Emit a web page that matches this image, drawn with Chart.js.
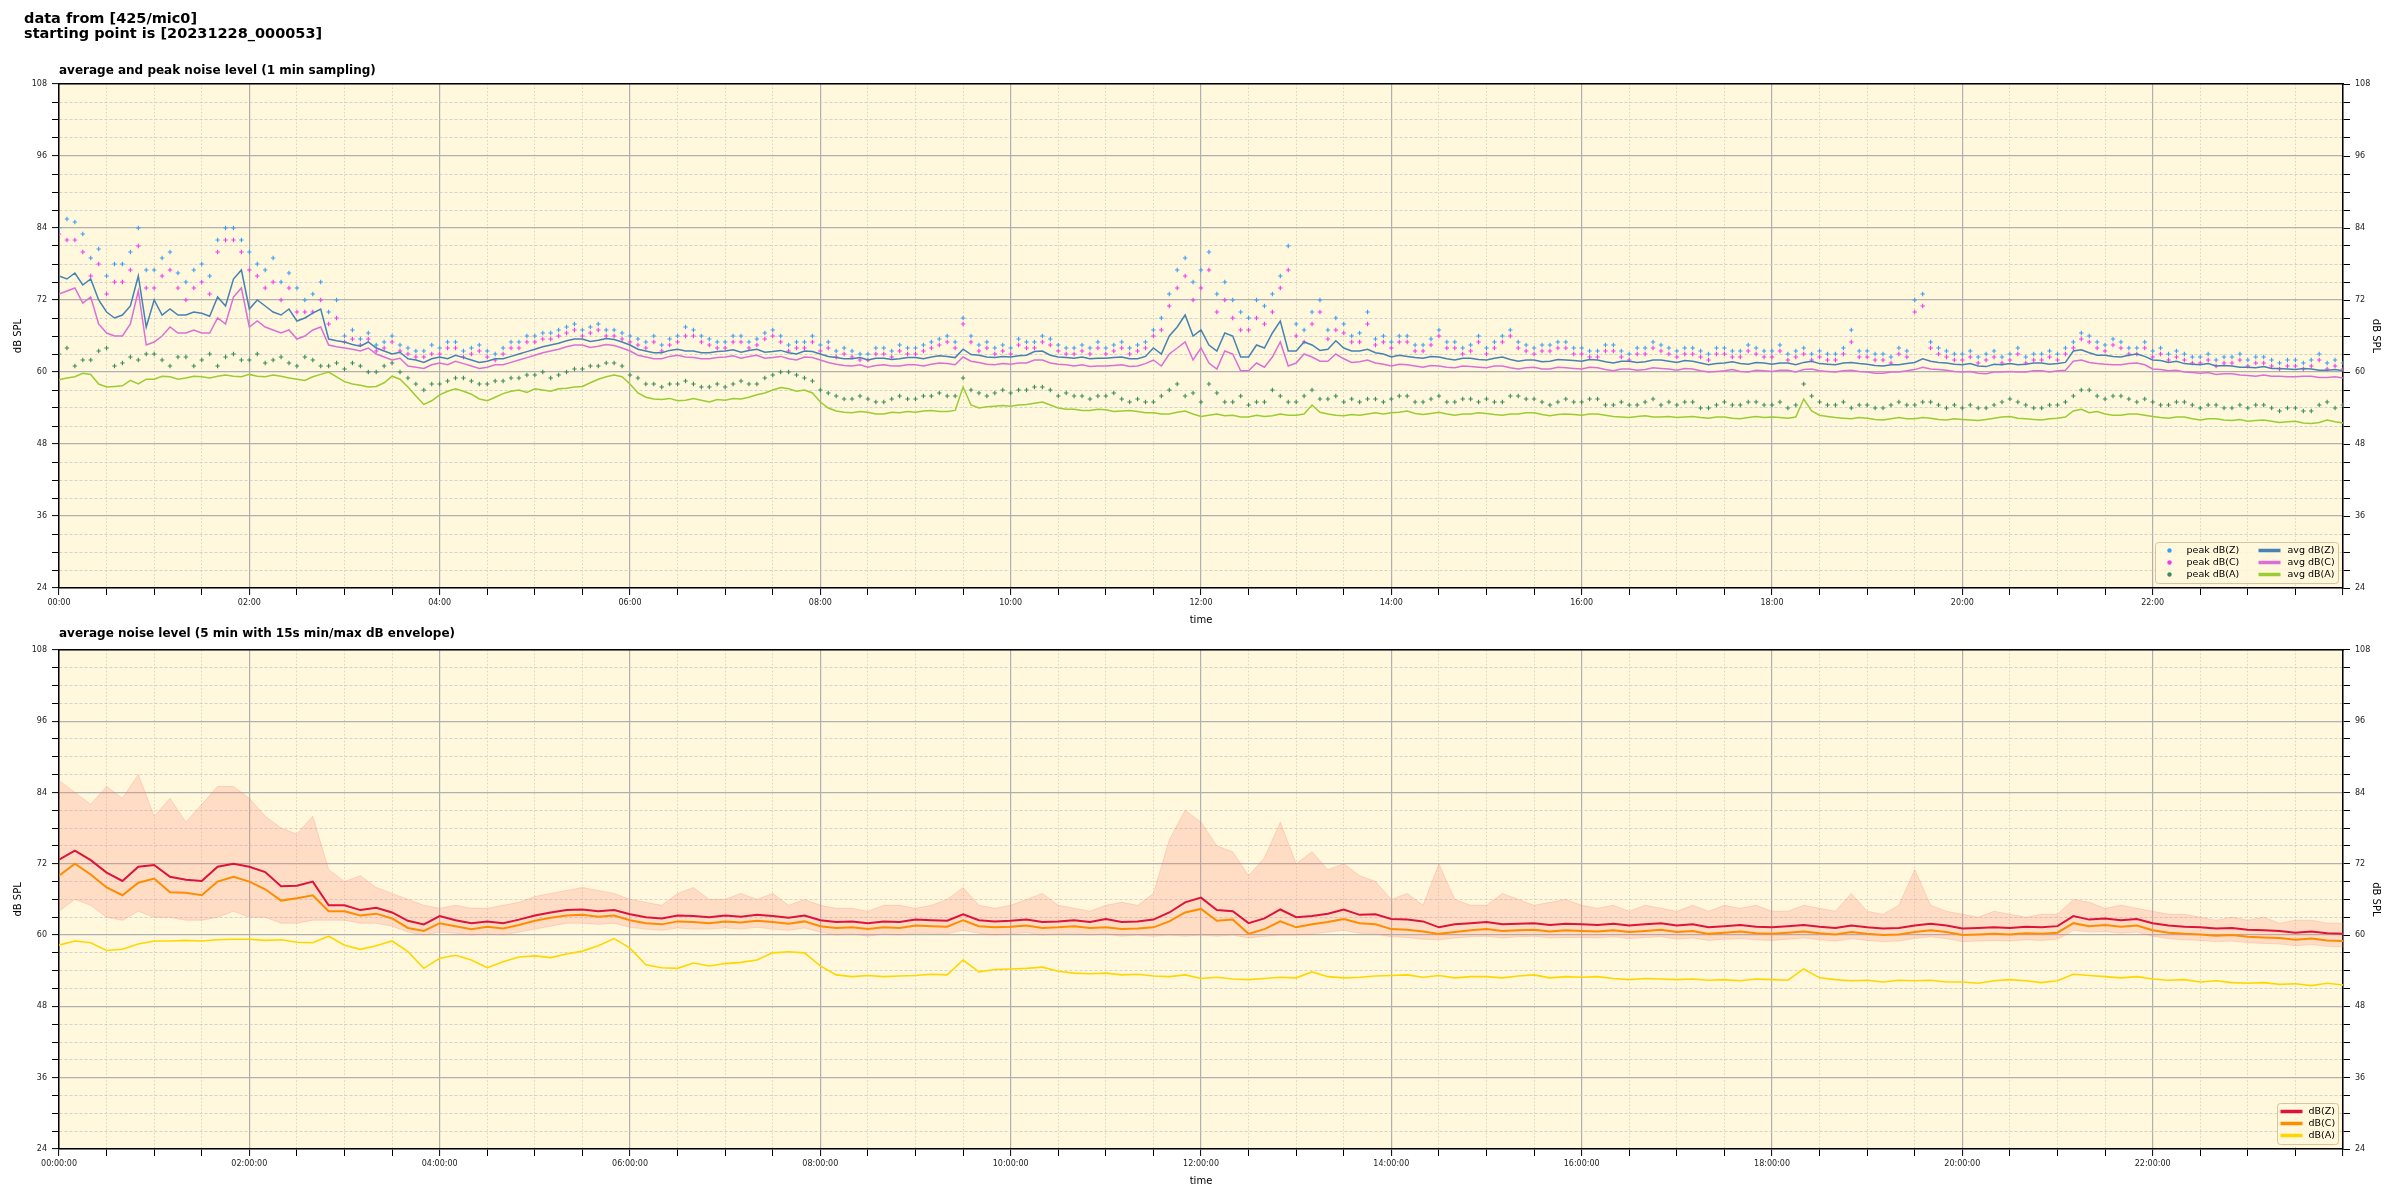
<!DOCTYPE html>
<html>
<head>
<meta charset="utf-8">
<script src="https://cdn.jsdelivr.net/npm/chart.js@4.4.1/dist/chart.umd.min.js"></script>
<style>
body { margin: 0; background: #fff; font-family: "DejaVu Sans", sans-serif; }
#page { position: relative; width: 2400px; height: 1200px; overflow: hidden; }
canvas { position: absolute; left: 0; }
.head { position: absolute; left: 24px; top: 11px; font-weight: bold; font-size: 14.5px; line-height: 15px; z-index: 2; }
.sub { position: absolute; left: 59px; font-weight: bold; font-size: 12px; line-height: 14px; z-index: 2; white-space: nowrap; }
</style>
</head>
<body>
<div id="page">
  <div class="head">data from [425/mic0]<br>starting point is [20231228_000053]</div>
  <div class="sub" style="top:63px">average and peak noise level (1 min sampling)</div>
  <div class="sub" style="top:626px">average noise level (5 min with 15s min/max dB envelope)</div>
  <canvas id="top" width="2400" height="640" style="top:0"></canvas>
  <canvas id="bottom" width="2400" height="560" style="top:640px"></canvas>
</div>
<script>
// top chart: one value every 5 minutes, 00:00 .. 24:00 (289 values), one row per hour

const peakZ = [
  84, 85.5, 85, 83, 79, 80.5, 76, 78, 78, 80, 84, 77,
  77, 79, 80, 76.5, 75, 77, 78, 76, 82, 84, 84, 82,
  80, 78, 77, 79, 75, 76.5, 74, 72, 73, 75, 70, 72,
  66, 67, 65.5, 66.5, 64.5, 65, 66, 64.5, 64, 63.5, 63.5, 64.5,
  64, 65, 65, 63.5, 64, 64.5, 63.5, 63, 64, 65, 65, 66,
  66, 66.5, 66.5, 67, 67.5, 68, 67, 67.5, 68, 67, 67, 66.5,
  66, 65.5, 65, 66, 64.5, 65.5, 66, 67.5, 67, 66, 65.5, 65,
  65, 66, 66, 65, 65.5, 66.5, 67, 66, 64.5, 65, 65, 66,
  64.5, 65, 63.5, 64, 63.5, 63, 63, 64, 64, 63.5, 64.5, 64,
  64, 64.5, 65, 65.5, 66, 65, 69, 66, 64.5, 65, 64, 64.5,
  64, 65.5, 65, 65, 66, 65.5, 64.5, 64, 64, 64.5, 64, 65,
  64, 64.5, 65, 64, 64.5, 65, 67, 69, 73, 77, 79, 75,
  77, 80, 73, 75, 72, 70, 69, 72, 71, 73, 76, 81,
  68, 67, 70, 72, 67, 69, 68, 66, 66.5, 70, 65.5, 66,
  65, 66, 66, 64.5, 64.5, 65.5, 67, 65, 65, 64, 64.5, 66,
  64, 65, 66, 67, 65, 64.5, 64, 64.5, 64.5, 65, 65, 64,
  64, 63.5, 63.5, 64.5, 64.5, 63.5, 63, 64, 64, 65, 64.5, 64,
  63.5, 64, 64, 63.5, 63, 64, 64, 63.5, 63.5, 64.5, 64, 63.5,
  63.5, 64.5, 63, 63.5, 64, 63, 63.5, 63, 63, 64, 67, 63.5,
  63.5, 63, 63, 62.5, 64, 63.5, 72, 73, 65, 64, 63.5, 63,
  63, 63.5, 62.5, 63, 63.5, 62.5, 63, 64, 62.5, 63, 63, 63.5,
  63, 64, 65, 66.5, 66, 65, 64.5, 65.5, 65, 64, 64, 65,
  63.5, 64, 63, 63.5, 63, 62.5, 62.5, 63, 62, 62.5, 62.5, 63,
  62, 62.5, 62.5, 62, 61.5, 62, 62, 61.5, 62, 63, 61.5, 62,
  61.5
]
const peakC = [
  83, 82, 82, 80, 76, 78, 73, 75, 75, 77, 81, 74,
  74, 76, 77, 74, 72, 74, 75, 73, 80, 82, 82, 80,
  77, 76, 74, 75, 72, 74, 70, 70, 70, 72, 68, 69,
  65, 65.5, 64.5, 65.5, 63.5, 64, 65, 63.5, 63, 62.5, 62.5, 63,
  63, 64, 64, 62.5, 63, 63.5, 62.5, 62, 63, 64, 64, 65,
  65, 65.5, 65.5, 66, 66.5, 67, 66, 66.5, 67, 66, 66, 65.5,
  65, 64.5, 64, 65, 63.5, 64.5, 65, 66, 66, 65, 64.5, 64,
  64, 65, 65, 64, 64.5, 65.5, 66, 65, 63.5, 64, 64, 65,
  63.5, 64, 62.5, 63, 62.5, 62, 62, 63, 63, 62.5, 63.5, 63,
  63, 63.5, 64, 64.5, 65, 64, 68, 65, 63.5, 64, 63, 63.5,
  63, 64.5, 64, 64, 65, 64.5, 63.5, 63, 63, 63.5, 63, 64,
  63, 63.5, 64, 63, 63.5, 64, 66, 67, 71, 74, 76, 72,
  74, 77, 70, 72, 69, 67, 67, 69, 68, 70, 74, 77,
  66, 65, 68, 70, 65.5, 67, 66.5, 65, 65, 68, 64.5, 65,
  64, 65, 65, 63.5, 63.5, 64.5, 66, 64, 64, 63, 63.5, 65,
  63, 64, 65, 66, 64, 63.5, 63, 63.5, 63.5, 64, 64, 63,
  63, 62.5, 62.5, 63.5, 63.5, 62.5, 62, 63, 63, 64, 63.5, 63,
  62.5, 63, 63, 62.5, 62, 63, 63, 62.5, 62.5, 63.5, 63, 62.5,
  62.5, 63.5, 62, 62.5, 63, 62, 62.5, 62, 62, 63, 65, 62.5,
  62.5, 62, 62, 61.5, 63, 62.5, 70, 71, 64, 63, 62.5, 62,
  62, 62.5, 61.5, 62, 62.5, 61.5, 62, 63, 61.5, 62, 62, 62.5,
  62, 63, 64, 65.5, 65, 64, 63.5, 64.5, 64, 63, 63, 64,
  62.5, 63, 62, 62.5, 62, 61.5, 61.5, 62, 61, 61.5, 61.5, 62,
  61, 61.5, 61.5, 61, 60.5, 61, 61, 60.5, 61, 62, 60.5, 61,
  60.5
]
const peakA = [
  63, 64, 61, 62, 62, 63.5, 64, 61, 61.5, 62.5, 62, 63,
  63, 62, 61, 62.5, 62.5, 61, 62, 63, 61, 62.5, 63, 62,
  62, 63, 61.5, 62, 62.5, 61.5, 61, 62.5, 62, 61, 61, 61.5,
  60.5, 61.5, 61, 60, 60, 61, 61.5, 60, 59, 58, 57, 58,
  58, 58.5, 59, 59, 58.5, 58, 58, 58.5, 58.5, 59, 59, 59.5,
  59.5, 60, 59, 59.5, 60, 60.5, 60.5, 61, 61, 61.5, 61.5, 61,
  59.5, 59, 58, 58, 57.5, 58, 58, 58.5, 58, 57.5, 57.5, 58,
  57.5, 58, 58.5, 58, 58, 59, 59.5, 60, 60, 59.5, 59, 58.5,
  57, 56.5, 56, 55.5, 55.5, 56, 55.5, 55, 55, 55.5, 56, 55.5,
  55.5, 56, 56, 56.5, 56, 56, 59, 57, 56.5, 56, 56.5, 57,
  56.5, 57, 57, 57.5, 57.5, 57, 56, 56.5, 56, 56, 55.5, 56,
  56, 56.5, 55.5, 55, 55.5, 55, 55, 56, 57, 58, 56, 56.5,
  55, 58, 56.5, 55, 55, 56, 54.5, 55, 55, 57, 56, 55,
  55, 56, 57, 55.5, 55.5, 56, 55, 55.5, 55, 55.5, 55.5, 55,
  55.5, 56, 56, 55, 55, 55.5, 56, 55, 55, 55.5, 55.5, 55,
  55.5, 55, 55, 56, 56, 55.5, 55.5, 55, 54.5, 55, 55.5, 55,
  55, 55.5, 55.5, 54.5, 54.5, 55, 54.5, 54.5, 55, 55.5, 54.5, 55,
  54.5, 55, 55, 54, 54, 54.5, 55, 54.5, 54.5, 55, 55, 54.5,
  54.5, 55, 54, 54.5, 58, 56, 55, 54.5, 54.5, 55, 54, 54.5,
  54.5, 54, 54, 54.5, 55, 54.5, 54.5, 55, 55, 54.5, 54, 54.5,
  54, 54.5, 54, 54, 54.5, 55, 55.5, 55, 54.5, 54, 54, 54.5,
  54.5, 55, 56, 57, 57, 56, 55.5, 56, 56, 55.5, 55, 55.5,
  55, 54.5, 54.5, 55, 55, 54.5, 54, 54.5, 54.5, 54, 54, 54.5,
  54, 54.5, 54.5, 54, 53.5, 54, 54, 53.5, 53.5, 54.5, 55, 54,
  54.5
]
const avgZ = [
  76, 75.5, 76.5, 74.5, 75.5, 72, 70, 69, 69.5, 71, 76, 67.5,
  72, 69.5, 70.5, 69.5, 69.5, 70, 69.8, 69.3, 72.5, 71, 75.5, 77,
  70.5, 72, 71, 70, 69.5, 70.5, 68.5, 69, 69.8, 70.5, 65.5, 65.2,
  65, 64.6, 64.3, 65, 64, 63.5, 63, 63.3, 62.2, 62, 61.6, 62.2,
  62.5, 62.2, 62.8, 62.4, 62, 61.6, 61.8, 62.2, 62.2, 62.6, 63, 63.4,
  63.8, 64.2, 64.5, 64.8, 65.2, 65.5, 65.5, 65.1, 65.3, 65.6, 65.4, 65,
  64.5, 63.8, 63.5, 63.2, 63.2, 63.6, 63.8, 63.5, 63.5, 63.2, 63.2, 63.4,
  63.5, 63.7, 63.3, 63.6, 63.8, 63.3, 63.4, 63.6, 63.2, 63, 63.5, 63.4,
  63, 62.6, 62.4, 62.2, 62.2, 62.4, 62, 62.3, 62.3, 62.1, 62.2, 62.4,
  62.4, 62.2, 62.5, 62.7, 62.6, 62.4, 63.8, 62.9, 62.8, 62.5, 62.4, 62.6,
  62.5, 62.7, 62.8, 63.4, 63.5, 62.8, 62.5, 62.4, 62.3, 62.5, 62.2, 62.3,
  62.3, 62.4, 62.5, 62.2, 62.2, 62.6, 64, 63, 66, 67.5, 69.5, 66,
  67, 64.5, 63.5, 66.5, 66, 62.5, 62.5, 64.5, 64, 66.5, 68.5, 63.5,
  63.5, 65, 64.5, 63.6, 63.8, 65.2, 64, 63.5, 63.5, 63.8, 63.2, 63,
  62.5, 62.8, 62.6, 62.4, 62.3, 62.6, 62.5, 62.2, 62, 62.3, 62.3, 62.1,
  62, 62.3, 62.5, 62.1, 61.8, 62, 62, 61.7, 61.8, 62.1, 62, 61.9,
  61.8, 62.1, 62, 61.7, 61.5, 61.8, 61.8, 61.6, 61.7, 62, 62, 61.8,
  61.6, 61.9, 61.8, 61.5, 61.2, 61.4, 61.5, 61.7, 61.4, 61.3, 61.6, 61.5,
  61.3, 61.5, 61.5, 61.2, 61.6, 61.8, 61.4, 61.3, 61.2, 61.5, 61.6, 61.4,
  61.3, 61.1, 61, 61.2, 61.2, 61.4, 61.6, 62.2, 61.8, 61.6, 61.5, 61.3,
  61.2, 61.4, 61, 60.9, 61.3, 61.2, 61.4, 61.2, 61.3, 61.5, 61.5, 61.3,
  61.4, 61.6, 63.5, 63.7, 63.2, 62.8, 62.8, 62.6, 62.5, 62.8, 63, 62.6,
  62, 61.9, 61.6, 61.8, 61.4, 61.3, 61.2, 61.4, 61, 61.1, 61, 60.8,
  60.8, 60.7, 60.9, 60.6, 60.6, 60.5, 60.4, 60.6, 60.5, 60.3, 60.3, 60.4,
  60.2
]
const avgC = [
  73, 73.5, 74, 71.5, 72.5, 68, 66.5, 66, 66, 68, 73.5, 64.5,
  65, 66, 67.5, 66.5, 66.5, 67, 66.5, 66.5, 69, 68, 72.5, 74,
  67.5, 68.5, 67.5, 67, 66.5, 67, 65.5, 66, 67, 67.5, 64.5, 64.2,
  64, 63.8, 63.5, 64, 63, 62.5, 62, 62.3, 61, 60.8, 60.6, 61.2,
  61.5, 61.2, 61.8, 61.4, 61, 60.6, 60.8, 61.2, 61.2, 61.6, 62, 62.4,
  62.8, 63.2, 63.5, 63.8, 64.2, 64.5, 64.5, 64.1, 64.3, 64.6, 64.4, 64,
  63.5, 62.8, 62.5, 62.2, 62.2, 62.6, 62.8, 62.5, 62.4, 62.2, 62.2, 62.4,
  62.5, 62.7, 62.3, 62.6, 62.8, 62.3, 62.4, 62.6, 62.2, 62, 62.5, 62.4,
  62, 61.6, 61.3, 61.1, 61, 61.2, 60.8, 61.1, 61.2, 61, 61, 61.2,
  61.2, 61, 61.3, 61.5, 61.4, 61.2, 62.5, 61.8, 61.6, 61.3, 61.2, 61.4,
  61.3, 61.5, 61.5, 62, 62, 61.5, 61.3, 61.2, 61, 61.2, 60.9, 61,
  61, 61.1, 61.2, 60.9, 61, 61.4, 62, 61, 63, 64, 65, 62,
  64, 61.5, 60.5, 63.5, 63, 60.2, 60.2, 61.5, 60.8, 62.5, 65, 61,
  61.5, 63, 62.5, 61.8, 61.8, 63, 62.2, 61.6, 61.7, 62, 61.5, 61.3,
  61, 61.3, 61.2, 61, 60.8, 61.1, 61, 60.8, 60.7, 61, 60.9, 60.8,
  60.7, 61, 61, 60.7, 60.5, 60.7, 60.8, 60.5, 60.5, 60.8, 60.7, 60.6,
  60.5, 60.8, 60.7, 60.4, 60.2, 60.5, 60.5, 60.3, 60.4, 60.7, 60.6, 60.5,
  60.3, 60.6, 60.5, 60.2, 60, 60.1, 60.2, 60.4, 60.1, 60, 60.3, 60.2,
  60.1, 60.3, 60.3, 60, 60.4, 60.5, 60.2, 60.1, 60, 60.2, 60.3, 60.1,
  60, 59.8, 59.8, 60, 60, 60.2, 60.4, 60.8, 60.5, 60.4, 60.3, 60.1,
  60, 60.1, 59.8, 59.7, 60, 60, 60.1, 60, 60, 60.2, 60.2, 60,
  60.2, 60.3, 61.8, 62, 61.6, 61.4, 61.3, 61.2, 61.2, 61.4, 61.5, 61.2,
  60.5, 60.4, 60.2, 60.3, 60, 59.9, 59.8, 59.9, 59.6, 59.7, 59.7, 59.5,
  59.4, 59.3, 59.5, 59.3, 59.3, 59.2, 59.2, 59.3, 59.3, 59.1, 59.1, 59.2,
  59
]
const avgA = [
  58.7, 59, 59.2, 59.8, 59.6, 58, 57.5, 57.6, 57.7, 58.6, 58, 58.8,
  58.8, 59.3, 59.2, 58.8, 59, 59.3, 59.2, 59, 59.3, 59.5, 59.3, 59.2,
  59.6, 59.3, 59.2, 59.5, 59.3, 59, 58.8, 58.6, 59.2, 59.6, 60, 59.2,
  58.4, 58, 57.8, 57.5, 57.6, 58.2, 59.3, 58.8, 57.5, 56, 54.6, 55.2,
  56.2, 56.8, 57.2, 56.8, 56.3, 55.5, 55.2, 55.8, 56.4, 56.8, 57, 56.6,
  57.2, 57, 56.8, 57.2, 57.3, 57.5, 57.6, 58.2, 58.8, 59.2, 59.5, 59.2,
  58, 56.5, 55.8, 55.5, 55.4, 55.6, 55.2, 55.3, 55.6, 55.3, 55, 55.4,
  55.3, 55.6, 55.5, 55.8, 56.2, 56.5, 57, 57.4, 57.2, 56.8, 57, 56.5,
  55, 54, 53.5, 53.3, 53.2, 53.4, 53.3, 53, 53, 53.3, 53.2, 53.4,
  53.3, 53.5, 53.6, 53.4, 53.4, 53.6, 57.5, 54.5, 54, 54.2, 54.3, 54.4,
  54.3, 54.5, 54.6, 54.8, 55, 54.5, 54, 53.8, 53.8, 53.6, 53.6, 53.8,
  53.7, 53.4, 53.5, 53.6, 53.4, 53.2, 53.2, 53, 53, 53.3, 53.5, 53,
  52.6, 52.8, 53, 52.7, 52.8, 52.5, 52.5, 52.8, 52.6, 52.7, 53, 52.8,
  52.8, 53, 54.5, 53.3, 53, 52.8, 52.7, 52.9, 52.8, 53, 53.2, 53,
  53.2, 53.3, 53.5, 53.1, 52.9, 53.1, 53.3, 53, 52.8, 53, 53, 53.2,
  53.1, 52.9, 52.8, 53, 53, 53.2, 53.2, 52.9, 52.7, 52.9, 53, 52.9,
  52.8, 53, 53, 52.8, 52.6, 52.5, 52.4, 52.6, 52.7, 52.5, 52.5, 52.6,
  52.4, 52.5, 52.6, 52.4, 52.3, 52.5, 52.5, 52.3, 52.2, 52.4, 52.6, 52.4,
  52.5, 52.4, 52.3, 52.5, 55.5, 53.5, 52.8, 52.6, 52.4, 52.3, 52.2, 52.4,
  52.3, 52.1, 52, 52.2, 52.4, 52.2, 52.2, 52.4, 52.3, 52.1, 52, 52.2,
  52.1, 52, 51.9, 52.1, 52.3, 52.5, 52.6, 52.3, 52.2, 52.1, 52, 52.2,
  52.3, 52.5, 53.5, 53.8, 53.2, 53.4, 53, 52.8, 52.8, 53, 53, 52.8,
  52.6, 52.4, 52.3, 52.5, 52.5, 52.2, 52, 52.2, 52.2, 52, 51.9, 52.1,
  51.8, 51.9, 52, 51.8, 51.6, 51.7, 51.8, 51.5, 51.4, 51.6, 52, 51.7,
  51.5
]

// bottom chart: one value every 10 minutes (145 values), 5 min averages and 15 s min/max envelope
const dbZ = [
  72.7, 74.2, 72.6, 70.5, 69.1, 71.5,
  71.8, 69.8, 69.3, 69.1, 71.5, 72,
  71.5, 70.6, 68.2, 68.3, 69, 65,
  65, 64.2, 64.6, 63.8, 62.4, 61.8,
  63.2, 62.5, 62, 62.3, 62, 62.6,
  63.3, 63.8, 64.2, 64.3, 64, 64.2,
  63.5, 63, 62.8, 63.3, 63.2, 63,
  63.3, 63.1, 63.4, 63.2, 62.9, 63.3,
  62.5, 62.2, 62.3, 62, 62.3, 62.2,
  62.6, 62.5, 62.4, 63.5, 62.5, 62.3,
  62.4, 62.6, 62.2, 62.3, 62.5, 62.2,
  62.7, 62.2, 62.3, 62.6, 63.8, 65.5,
  66.3, 64.2, 64, 62, 62.8, 64.3,
  63, 63.2, 63.6, 64.3, 63.4, 63.5,
  62.7, 62.6, 62.3, 61.3, 61.8, 62,
  62.2, 61.8, 61.9, 62, 61.7, 61.9,
  61.8, 61.7, 61.9, 61.6, 61.8, 62,
  61.6, 61.8, 61.3, 61.5, 61.7, 61.4,
  61.3, 61.5, 61.7, 61.4, 61.2, 61.6,
  61.3, 61.1, 61.2, 61.6, 61.9, 61.6,
  61.1, 61.2, 61.3, 61.2, 61.4, 61.3,
  61.5, 63.2, 62.6, 62.8, 62.5, 62.7,
  62, 61.6, 61.4, 61.3, 61.1, 61.2,
  60.9, 60.8, 60.7, 60.4, 60.6, 60.3,
  60.2
]
const dbC = [
  70, 72, 70.2, 68, 66.7, 68.8,
  69.5, 67.2, 67.1, 66.7, 69, 69.8,
  69, 67.7, 65.8, 66.2, 66.7, 64,
  64, 63.3, 63.6, 62.8, 61.2, 60.7,
  62, 61.5, 61, 61.4, 61.1, 61.7,
  62.4, 62.9, 63.3, 63.4, 63.1, 63.3,
  62.5, 62, 61.8, 62.3, 62.2, 62,
  62.3, 62.1, 62.4, 62.2, 61.9, 62.3,
  61.5, 61.2, 61.3, 61, 61.3, 61.2,
  61.6, 61.5, 61.4, 62.5, 61.5, 61.3,
  61.4, 61.6, 61.2, 61.3, 61.5, 61.2,
  61.3, 61, 61.1, 61.3, 62.3, 63.8,
  64.4, 62.4, 62.6, 60.2, 61, 62.3,
  61.3, 61.8, 62.2, 62.7, 62, 61.8,
  61, 60.9, 60.6, 60.2, 60.5, 60.8,
  61, 60.7, 60.8, 60.9, 60.6, 60.8,
  60.7, 60.6, 60.8, 60.5, 60.7, 60.9,
  60.5, 60.7, 60.2, 60.4, 60.6, 60.3,
  60.2, 60.4, 60.6, 60.3, 60.1, 60.5,
  60.2, 60, 60.1, 60.5, 60.8, 60.5,
  60, 60.1, 60.2, 60.1, 60.3, 60.2,
  60.4, 62, 61.5, 61.7, 61.4, 61.6,
  60.8, 60.4, 60.2, 60.1, 59.9, 60,
  59.7, 59.6, 59.5, 59.2, 59.4, 59.1,
  59
]
const dbA = [
  58.3, 59, 58.7, 57.4, 57.6, 58.5,
  59, 59, 59.1, 59, 59.2, 59.3,
  59.3, 59.1, 59.2, 58.8, 58.7, 59.8,
  58.3, 57.6, 58.2, 59, 57.2, 54.4,
  56.1, 56.6, 55.8, 54.5, 55.5, 56.3,
  56.5, 56.2, 56.8, 57.3, 58.2, 59.4,
  57.8, 55, 54.5, 54.4, 55.3, 54.8,
  55.2, 55.4, 55.8, 57, 57.2, 57,
  54.8, 53.3, 53, 53.2, 53, 53.1,
  53.2, 53.4, 53.3, 55.8, 53.8, 54.2,
  54.3, 54.4, 54.6, 53.9, 53.6, 53.5,
  53.6, 53.3, 53.4, 53.1, 53, 53.3,
  52.7, 52.9, 52.6, 52.5, 52.7, 52.9,
  52.8, 53.8, 53, 52.8, 52.9, 53.1,
  53.2, 53.3, 52.9, 53.2, 52.8, 53,
  53, 52.8, 53.1, 53.3, 52.8, 53,
  52.9, 53, 52.7, 52.5, 52.7, 52.6,
  52.5, 52.6, 52.4, 52.5, 52.3, 52.6,
  52.5, 52.4, 54.3, 52.8, 52.5, 52.3,
  52.4, 52.1, 52.4, 52.3, 52.4, 52.1,
  52.1, 51.9, 52.3, 52.5, 52.3, 52,
  52.3, 53.4, 53.2, 53, 52.8, 53,
  52.6, 52.4, 52.5, 52.1, 52.3, 52,
  51.9, 52, 51.7, 51.8, 51.5, 51.9,
  51.6
]
const envMax = [
  86, 84, 82, 85, 83, 87,
  80, 83, 79, 82, 85, 85,
  83, 80, 78, 77, 80, 71,
  69, 70, 68, 67, 66, 65,
  64.5, 65, 64.5, 64.5, 65, 65.5,
  66.5, 67, 67.5, 68, 67.5, 67,
  66, 65.5, 65, 67, 68, 66,
  66, 67, 66, 67, 65, 66,
  65, 64.5, 64.5, 64, 65, 65,
  64.5, 65, 66, 68, 65, 64.5,
  65, 66, 67, 65, 64.5, 64,
  65, 65.5, 65, 67, 76, 81,
  79, 75, 74, 70, 73, 79,
  72, 74, 71, 72, 70, 69,
  66, 67, 65, 72, 66, 65,
  65, 67, 66, 65, 65.5, 66,
  65, 64.5, 65, 64, 65, 64.5,
  64, 65, 64, 65, 64.5, 65,
  64, 64, 65, 64.5, 64, 67,
  64, 63.5, 65, 71, 65, 64,
  63.5, 63, 64, 63.5, 63, 63.5,
  63.5, 66, 65.5, 64.5, 65, 64.5,
  64, 63.5, 63.5, 63, 62.5, 63,
  62.5, 63, 62, 62.5, 62.5, 62,
  62
]
const envMin = [
  64, 66, 65, 63, 62.5, 64,
  63, 63, 62.5, 62.5, 63, 64,
  63, 63, 62, 62, 62.5, 62.5,
  62.5, 62, 62, 61.5, 60.5, 60,
  60.5, 60.3, 60, 60.2, 60, 60.5,
  61, 61.5, 62, 62, 61.8, 62,
  61.3, 61, 60.8, 61.2, 61, 61,
  61.2, 61, 61.3, 61, 60.8, 61.2,
  60.5, 60, 60.2, 59.8, 60.2, 60,
  60.3, 60.3, 60.2, 60.8, 60.3, 60,
  60.2, 60.4, 60, 60.2, 60.3, 60,
  60.2, 59.8, 60, 59.8, 60, 59.8,
  60, 59.8, 60, 59.5, 59.8, 60,
  60, 60.2, 60.5, 60.8, 60.3, 60.2,
  59.7, 59.6, 59.3, 59.2, 59.5, 59.7,
  59.8, 59.5, 59.7, 59.8, 59.5, 59.6,
  59.6, 59.5, 59.7, 59.4, 59.6, 59.7,
  59.3, 59.5, 59.1, 59.3, 59.4, 59.2,
  59.1, 59.3, 59.5, 59.2, 59, 59.4,
  59.1, 58.9, 59, 59.4, 59.7, 59.4,
  58.9, 59, 59.1, 59, 59.2, 59.1,
  59.3, 60.8, 60.5, 60.6, 60.3, 60.5,
  59.8, 59.4, 59.2, 59.1, 58.9, 59,
  58.7, 58.6, 58.5, 58.2, 58.4, 58.1,
  58
]

// each series spans the full day, spacing follows from its length
const pts = (arr) => arr.map((v, i) => ({x: i * 1440 / (arr.length - 1), y: v}))

const FONT = 'DejaVu Sans'

function fmtTime(v, secs) {
    let h = String(Math.floor(v / 60)).padStart(2, '0')
    let m = String(v % 60).padStart(2, '0')
    return secs ? h + ':' + m + ':00' : h + ':' + m
}

const isMajorX = (c) => c.tick !== undefined && c.tick.value % 120 === 0
const isMajorY = (c) => c.tick !== undefined && c.tick.value % 12 === 0

function makeScales(secs) {
    const tickFont = {family: FONT, size: 8}
    const titleFont = {family: FONT, size: 10}
    const yTicks = {
        stepSize: 3, autoSkip: false, padding: 5, color: '#222', font: tickFont,
        callback: (v) => v % 12 === 0 ? String(v) : ''
    }
    return {
        x: {
            type: 'linear', position: 'bottom', min: 0, max: 1440,
            afterFit: (s) => { s.height = 38 },
            ticks: {
                stepSize: 30, autoSkip: false, maxRotation: 0, padding: 3, color: '#222', font: tickFont,
                callback: (v) => (v % 120 === 0 && v < 1440) ? fmtTime(v, secs) : ''
            },
            grid: {
                color: (c) => isMajorX(c) ? '#b0b0b0' : '#d6ccae',
                lineWidth: (c) => isMajorX(c) ? 1.2 : 0.8,
                tickLength: 7, tickColor: '#000', tickWidth: 1
            },
            border: {color: '#000', width: 1.5, dash: (c) => (c.tick !== undefined && !isMajorX(c)) ? [1.5, 2] : []},
            title: {display: true, text: 'time', font: titleFont, color: '#000', padding: 0}
        },
        x2: {
            type: 'linear', position: 'top', min: 0, max: 1440,
            afterFit: (s) => { s.height = 0 },
            ticks: {display: false},
            grid: {drawOnChartArea: false, drawTicks: false},
            border: {color: '#000', width: 1.5}
        },
        y: {
            type: 'linear', position: 'left', min: 24, max: 108,
            afterFit: (s) => { s.width = 47 },
            ticks: yTicks,
            grid: {
                color: (c) => isMajorY(c) ? '#b0b0b0' : '#c8c8c8',
                lineWidth: (c) => isMajorY(c) ? 1.2 : 0.8,
                tickLength: 7, tickColor: '#000', tickWidth: 1
            },
            border: {color: '#000', width: 1.5, dash: (c) => (c.tick !== undefined && !isMajorY(c)) ? [3, 2] : []},
            title: {display: true, text: 'dB SPL', font: titleFont, color: '#000', padding: 0}
        },
        y2: {
            type: 'linear', position: 'right', min: 24, max: 108,
            afterFit: (s) => { s.width = 39 },
            ticks: yTicks,
            grid: {drawOnChartArea: false, tickLength: 7, tickColor: '#000', tickWidth: 1},
            border: {color: '#000', width: 1.5},
            title: {display: true, text: 'dB SPL', font: titleFont, color: '#000', padding: 0}
        }
    }
}

// cornsilk plot background
const plotBg = {
    id: 'plotBg',
    beforeDraw(chart) {
        const {ctx, chartArea: a} = chart
        ctx.save()
        ctx.fillStyle = '#fff8dc'
        ctx.fillRect(a.left, a.top, a.right - a.left, a.bottom - a.top)
        ctx.restore()
    }
}

// matplotlib style legend box in the lower right corner
const boxLegend = {
    id: 'boxLegend',
    afterDatasetsDraw(chart, args, o) {
        const {ctx, chartArea: a} = chart
        const x0 = Math.round(a.right - 5 - o.w) + 0.5
        const y0 = Math.round(a.bottom - 5 - o.h) + 0.5
        ctx.save()
        ctx.beginPath()
        ctx.roundRect(x0, y0, o.w, o.h, 3)
        ctx.fillStyle = 'rgba(255,248,220,0.85)'
        ctx.fill()
        ctx.strokeStyle = '#dcc39b'
        ctx.lineWidth = 1
        ctx.stroke()
        ctx.font = '9.5px "' + FONT + '"'
        ctx.textBaseline = 'middle'
        let rows = [0, 0]
        chart.data.datasets.forEach((ds) => {
            if (ds.legendCol === undefined) return
            const c = ds.legendCol
            const y = y0 + 8 + rows[c] * 12
            rows[c]++
            const mx = x0 + o.cols[c]
            if (ds.showLine === false) {
                ctx.beginPath()
                ctx.arc(mx + 1, y, 2.2, 0, Math.PI * 2)
                ctx.fillStyle = ds.borderColor
                ctx.fill()
            } else {
                ctx.beginPath()
                ctx.moveTo(mx, y)
                ctx.lineTo(mx + 22, y)
                ctx.strokeStyle = ds.borderColor
                ctx.lineWidth = 3.5
                ctx.stroke()
            }
            ctx.fillStyle = '#000'
            ctx.fillText(ds.label, x0 + o.text[c], y + 0.5)
        })
        ctx.restore()
    }
}

function peak(label, data, color, order) {
    return {
        label: label, data: pts(data), showLine: false, legendCol: 0, order: order,
        borderColor: color, backgroundColor: color,
        pointStyle: 'cross', pointRadius: 2.2, pointBorderWidth: 1.1
    }
}
function avg(label, data, color, order, width, col) {
    return {
        label: label, data: pts(data), legendCol: col, order: order,
        borderColor: color, backgroundColor: color, borderWidth: width,
        pointRadius: 0, tension: 0
    }
}

const common = {
    responsive: false,
    animation: false,
    devicePixelRatio: 1,
    events: []
}

new Chart(document.getElementById('top'), {
    type: 'line',
    data: {
        datasets: [
            peak('peak dB(Z)', peakZ, '#3d9df5', 5),
            peak('peak dB(C)', peakC, '#f03cf0', 4),
            peak('peak dB(A)', peakA, '#3a8c5c', 3),
            avg('avg dB(Z)', avgZ, '#4682b4', 2, 1.5, 1),
            avg('avg dB(C)', avgC, '#da70d6', 1, 1.5, 1),
            avg('avg dB(A)', avgA, '#9acd32', 0, 1.5, 1)
        ]
    },
    options: Object.assign({}, common, {
        layout: {padding: {left: 12, right: 18, top: 84, bottom: 14}},
        scales: makeScales(false),
        plugins: {
            legend: {display: false},
            tooltip: {enabled: false},
            boxLegend: {w: 183, h: 41, cols: [13, 103], text: [31, 132]}
        }
    }),
    plugins: [plotBg, boxLegend]
})

new Chart(document.getElementById('bottom'), {
    type: 'line',
    data: {
        datasets: [
            avg('dB(Z)', dbZ, '#dc143c', 2, 2, 0),
            avg('dB(C)', dbC, '#ff8c00', 1, 2, 0),
            avg('dB(A)', dbA, '#ffd700', 0, 1.6, 0),
            {
                label: 'max', data: pts(envMax), fill: '+1', order: 3,
                borderColor: 'rgba(250,128,114,0.25)', borderWidth: 1,
                backgroundColor: 'rgba(250,128,114,0.22)', pointRadius: 0
            },
            {
                label: 'min', data: pts(envMin), fill: false, order: 4,
                borderColor: 'rgba(250,128,114,0.25)', borderWidth: 1, pointRadius: 0
            }
        ]
    },
    options: Object.assign({}, common, {
        layout: {padding: {left: 12, right: 18, top: 5, bottom: 13}},
        scales: makeScales(true),
        plugins: {
            legend: {display: false},
            tooltip: {enabled: false},
            boxLegend: {w: 61, h: 41, cols: [3], text: [31]}
        }
    }),
    plugins: [plotBg, boxLegend]
})
</script>
</body>
</html>
